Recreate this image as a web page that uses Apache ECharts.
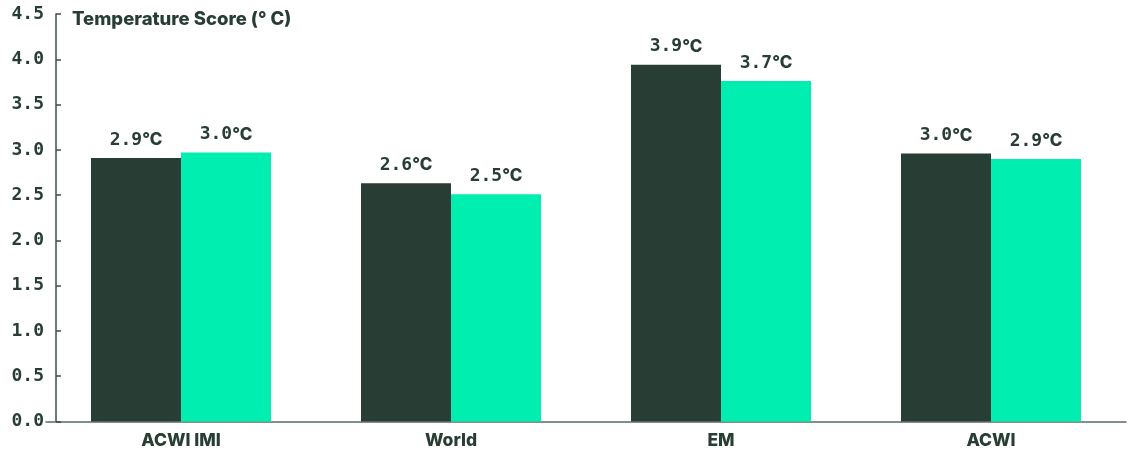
<!DOCTYPE html>
<html>
<head>
<meta charset="utf-8">
<script src="https://cdn.jsdelivr.net/npm/echarts@6/dist/echarts.min.js"></script>
<style>
html,body{margin:0;padding:0;background:#fff;}
#c{width:1132px;height:453px;}
</style>
</head>
<body>
<div id="c"></div>
<script>
const categories = ['ACWI IMI', 'World', 'EM', 'ACWI'];
const seriesA = [2.91, 2.63, 3.94, 2.96];
const seriesB = [2.97, 2.51, 3.76, 2.90];
const labelsA = ['2.9', '2.6', '3.9', '3.0'];
const labelsB = ['3.0', '2.5', '3.7', '2.9'];
const yTicks = [0, 0.5, 1, 1.5, 2, 2.5, 3, 3.5, 4, 4.5];
const titleText = 'Temperature Score (° C)';

const DARK = '#283e34';
const BRIGHT = '#00efb0';

const labelRich = {
  n: { fontFamily: 'DejaVu Sans Mono', fontWeight: 'bold', fontSize: 18, color: DARK },
  d: { fontFamily: 'Inter', fontWeight: 800, fontSize: 17, color: DARK }
};

function mkLabel(arr) {
  return {
    show: true,
    position: 'top',
    distance: 9,
    formatter: p => '{n|' + arr[p.dataIndex] + '}{d|°C}',
    rich: labelRich
  };
}

const chart = echarts.init(document.getElementById('c'), null, { renderer: 'canvas' });
chart.setOption({
  animation: false,
  title: {
    text: titleText,
    left: 67,
    top: 5,
    textStyle: { fontFamily: 'Inter', fontWeight: 800, fontSize: 18.5, color: DARK }
  },
  grid: { left: 46, right: 6, top: 14, bottom: 31.5, containLabel: false },
  xAxis: {
    type: 'category',
    data: categories,
    axisLine: { lineStyle: { color: '#5b6b64', width: 1.5 } },
    axisTick: { show: false },
    axisLabel: {
      margin: 10,
      fontFamily: 'Inter', fontWeight: 800, fontSize: 17.5, color: DARK
    }
  },
  yAxis: {
    type: 'value',
    min: 0,
    max: 4.5,
    interval: 0.5,
    offset: -10,
    splitLine: { show: false },
    axisLine: { show: true, lineStyle: { color: '#3d4f47', width: 1.5 } },
    axisTick: { show: true, inside: true, length: 5, lineStyle: { color: '#3d4f47', width: 1.5 } },
    axisLabel: {
      margin: 12,
      fontFamily: 'DejaVu Sans Mono', fontWeight: 'bold', fontSize: 18, color: DARK,
      formatter: v => v.toFixed(1)
    }
  },
  series: [
    {
      type: 'bar', data: seriesA, barWidth: 90, barGap: '0%',
      itemStyle: { color: DARK }, label: mkLabel(labelsA)
    },
    {
      type: 'bar', data: seriesB, barWidth: 90, barGap: '0%',
      itemStyle: { color: BRIGHT }, label: mkLabel(labelsB)
    }
  ]
});
</script>
</body>
</html>
